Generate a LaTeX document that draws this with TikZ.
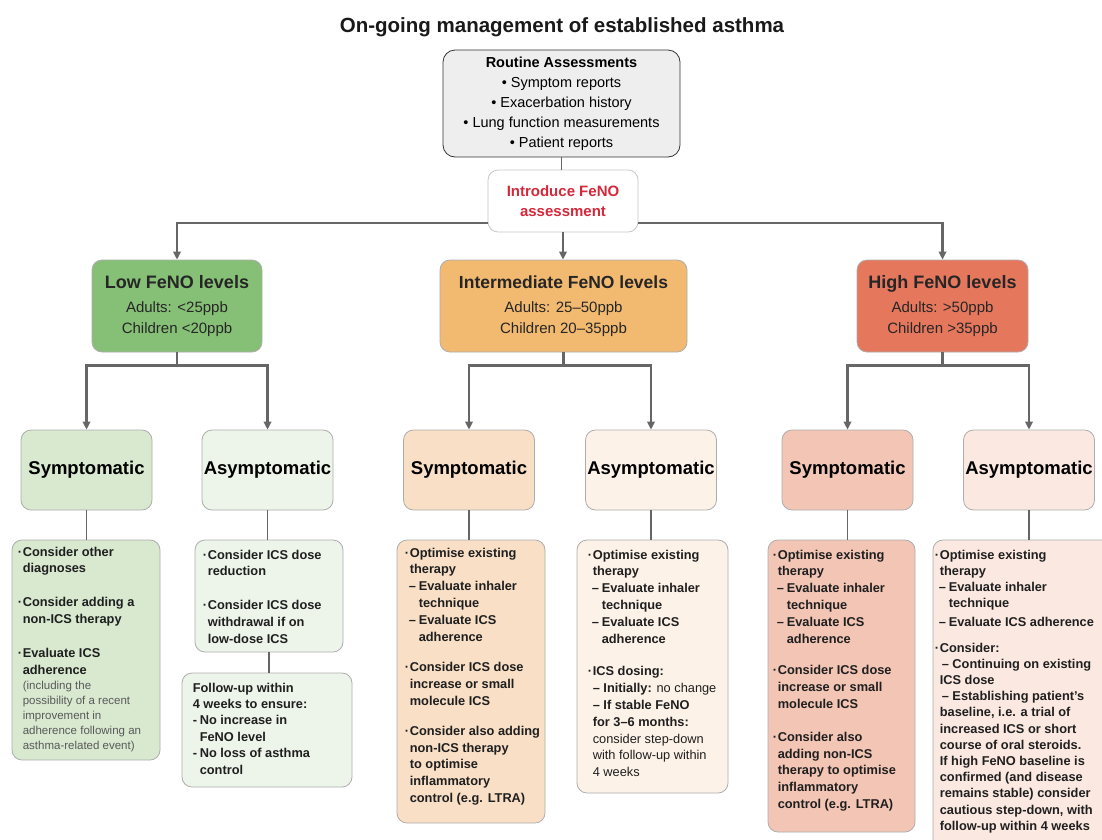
\documentclass[tikz,border=0pt]{standalone}
\usepackage{fontspec}
\setmainfont{Liberation Sans}
\usetikzlibrary{arrows.meta}
\definecolor{routc}{RGB}{238,238,238}
\definecolor{fenored}{RGB}{214,40,58}
\definecolor{lowc}{RGB}{134,192,118}
\definecolor{lows}{RGB}{216,233,208}
\definecolor{lowa}{RGB}{237,245,234}
\definecolor{intc}{RGB}{242,186,112}
\definecolor{ints}{RGB}{248,223,198}
\definecolor{inta}{RGB}{253,242,232}
\definecolor{highc}{RGB}{229,119,93}
\definecolor{highs}{RGB}{242,197,181}
\definecolor{higha}{RGB}{251,233,225}
\newcommand{\dbul}{\makebox[5pt][l]{\textperiodcentered}}
\newcommand{\dind}{\hspace*{5pt}}
\newcommand{\dsub}{\hspace*{4pt}\makebox[10pt][l]{--}}
\newcommand{\dsind}{\hspace*{14pt}}
\newcommand{\dnote}{\mdseries\color{black!65}\fontsize{11.5}{15}\selectfont}

\begin{document}
\begin{tikzpicture}[x=1pt, y=-1pt,
	box/.style = {draw=black!32, rounded corners=10pt, line width=0.8pt, inner sep=0pt},
	level/.style = {box, minimum height=92pt, align=center, text=black!85, font=\fontsize{15}{21}\selectfont},
	state/.style = {box, minimum width=131pt, minimum height=80pt, font=\fontsize{18.5}{22}\selectfont\bfseries},
	dtext/.style = {anchor=north west, align=left, inner sep=0pt, text=black!88, font=\fontsize{12.8}{16.8}\selectfont\bfseries},
	arr/.style = {draw=black!60, line width=2.4pt, -{Triangle[length=8pt,width=7.5pt]}},
	stub/.style = {draw=black!60, line width=1.2pt}]
		\useasboundingbox (0,0) rectangle (1102,839);
		\clip (0,0) rectangle (1102,839);
		\fill[white] (0,0) rectangle (1102,839);
		\node[text=black!90] (title) at (562,27) {\fontsize{20.5}{24}\selectfont\bfseries On-going management of established asthma};
		\node[box, draw=black!80, fill=routc, rounded corners=12pt, minimum width=237pt, minimum height=107pt, align=center, font=\fontsize{14.5}{20}\selectfont] (rout) at (561.5,103.5) {\textbf{Routine Assessments}\\ \textbullet\ Symptom reports\\ \textbullet\ Exacerbation history\\ \textbullet\ Lung function measurements\\ \textbullet\ Patient reports};
		\node[box, fill=white, draw=black!22, minimum width=150pt, minimum height=62pt, align=center, text=fenored, font=\fontsize{15}{20}\selectfont\bfseries] (feno) at (563,201) {Introduce FeNO\\assessment};
		\coordinate (bar) at (562,223);
		\node[level, fill=lowc, minimum width=170pt] (low) at (177,306) {{\fontsize{18}{22}\selectfont\bfseries Low FeNO levels}\\[3pt]Adults: <25ppb\\Children <20ppb};
		\node[level, fill=intc, minimum width=247pt] (inter) at (563.5,306) {{\fontsize{17.5}{22}\selectfont\bfseries Intermediate FeNO levels}\\[3pt]Adults: 25--50ppb\\Children 20--35ppb};
		\node[level, fill=highc, minimum width=171pt] (high) at (942.5,306) {{\fontsize{18}{22}\selectfont\bfseries High FeNO levels}\\[3pt]Adults: >50ppb\\Children >35ppb};
		\node[state, fill=lows] (lowS) at (86.5,470) {Symptomatic};
		\node[state, fill=lowa] (lowA) at (267.5,470) {Asymptomatic};
		\node[state, fill=ints] (intS) at (469,470) {Symptomatic};
		\node[state, fill=inta] (intA) at (651,470) {Asymptomatic};
		\node[state, fill=highs] (highS) at (847.5,470) {Symptomatic};
		\node[state, fill=higha] (highA) at (1029,470) {Asymptomatic};
		\node[box, fill=lows, minimum width=148pt, minimum height=220pt] (lowSd) at (86,650) {};
		\node[box, fill=lowa, minimum width=148pt, minimum height=112pt] (lowAd) at (269,596) {};
		\node[box, fill=lowa, minimum width=170pt, minimum height=114pt] (lowF) at (267,730) {};
		\node[box, fill=ints, minimum width=148pt, minimum height=283pt] (intSd) at (471,681.5) {};
		\node[box, fill=inta, minimum width=151pt, minimum height=253pt] (intAd) at (652.5,666.5) {};
		\node[box, fill=highs, minimum width=147pt, minimum height=292pt] (highSd) at (841.5,686) {};
		\node[box, fill=higha, minimum width=180pt, minimum height=320pt] (highAd) at (1023,700) {};
		\node[dtext, xshift=6pt, yshift=-7pt] (lowSdt) at (lowSd.north west) {\dbul Consider other\\
			\dind diagnoses\\[17pt]
			\dbul Consider adding a\\
			\dind non-ICS therapy\\[17pt]
			\dbul Evaluate ICS\\
			\dind adherence\\[-1pt]
			\dind{\dnote (including the}\\[-1.8pt]
			\dind{\dnote possibility of a recent}\\[-1.8pt]
			\dind{\dnote improvement in}\\[-1.8pt]
			\dind{\dnote adherence following an}\\[-1.8pt]
			\dind{\dnote asthma-related event)}};
		\node[dtext, xshift=8pt, yshift=-10pt] (lowAdt) at (lowAd.north west) {\dbul Consider ICS dose\\
			\dind reduction\\[17pt]
			\dbul Consider ICS dose\\
			\dind withdrawal if on\\
			\dind low-dose ICS};
		\node[dtext, xshift=11pt, yshift=-10pt, font=\fontsize{12.8}{16.4}\selectfont\bfseries] (lowFt) at (lowF.north west) {Follow-up within\\
			4 weeks to ensure:\\
			\makebox[7pt][l]{-}No increase in\\
			\hspace*{7pt}FeNO level\\
			\makebox[7pt][l]{-}No loss of asthma\\
			\hspace*{7pt}control};
		\node[dtext, xshift=8pt, yshift=-8pt] (intSdt) at (intSd.north west) {\dbul Optimise existing\\
			\dind therapy\\
			\dsub Evaluate inhaler\\
			\dsind technique\\
			\dsub Evaluate ICS\\
			\dsind adherence\\[14pt]
			\dbul Consider ICS dose\\
			\dind increase or small\\
			\dind molecule ICS\\[13pt]
			\dbul Consider also adding\\
			\dind non-ICS therapy\\
			\dind to optimise\\
			\dind inflammatory\\
			\dind control (e.g. LTRA)};
		\node[dtext, xshift=11pt, yshift=-10pt] (intAdt) at (intAd.north west) {\dbul Optimise existing\\
			\dind therapy\\
			\dsub Evaluate inhaler\\
			\dsind technique\\
			\dsub Evaluate ICS\\
			\dsind adherence\\[16pt]
			\dbul ICS dosing:\\
			\dind --~Initially: {\mdseries no change}\\
			\dind --~If stable FeNO\\
			\dind for 3--6 months:\\
			\dind{\mdseries consider step-down}\\
			\dind{\mdseries with follow-up within}\\
			\dind{\mdseries 4 weeks}};
		\node[dtext, xshift=5pt, yshift=-10pt] (highSdt) at (highSd.north west) {\dbul Optimise existing\\
			\dind therapy\\
			\dsub Evaluate inhaler\\
			\dsind technique\\
			\dsub Evaluate ICS\\
			\dsind adherence\\[15pt]
			\dbul Consider ICS dose\\
			\dind increase or small\\
			\dind molecule ICS\\[16pt]
			\dbul Consider also\\
			\dind adding non-ICS\\
			\dind therapy to optimise\\
			\dind inflammatory\\
			\dind control (e.g. LTRA)};
		\node[dtext, xshift=2pt, yshift=-10pt, font=\fontsize{12.8}{16.2}\selectfont\bfseries] (highAdt) at (highAd.north west) {\dbul Optimise existing\\
			\dind therapy\\
			\dsub Evaluate inhaler\\
			\dsind technique\\[3pt]
			\dsub Evaluate ICS adherence\\[9pt]
			\dbul Consider:\\
			\hspace*{7pt}--~Continuing on existing\\
			\dind ICS dose\\
			\hspace*{7pt}--~Establishing patient's\\
			\dind baseline, i.e. a trial of\\
			\dind increased ICS or short\\
			\dind course of oral steroids.\\
			\dind If high FeNO baseline is\\
			\dind confirmed (and disease\\
			\dind remains stable) consider\\
			\dind cautious step-down, with\\
			\dind follow-up within 4 weeks};
		\draw[stub] (rout.south) -- (rout.south |- feno.north);
		\draw[arr] (feno.west |- bar) -| (low.north);
		\draw[arr] (feno.east |- bar) -| (high.north);
		\draw[arr] (feno.south) -- (feno.south |- inter.north);
		\draw[arr] (low.south) -- ++(0,13) -| (lowS.north);
		\draw[arr] (low.south) -- ++(0,13) -| (lowA.north);
		\draw[arr] (inter.south) -- ++(0,13) -| (intS.north);
		\draw[arr] (inter.south) -- ++(0,13) -| (intA.north);
		\draw[arr] (high.south) -- ++(0,13) -| (highS.north);
		\draw[arr] (high.south) -- ++(0,13) -| (highA.north);
		\draw[stub] (lowS.south) -- (lowS.south |- lowSd.north);
		\draw[stub] (lowA.south) -- (lowA.south |- lowAd.north);
		\draw[stub] (lowAd.south) -- (lowAd.south |- lowF.north);
		\draw[stub] (intS.south) -- (intS.south |- intSd.north);
		\draw[stub] (intA.south) -- (intA.south |- intAd.north);
		\draw[stub] (highS.south) -- (highS.south |- highSd.north);
		\draw[stub] (highA.south) -- (highA.south |- highAd.north);
	\end{tikzpicture}
\end{document}
